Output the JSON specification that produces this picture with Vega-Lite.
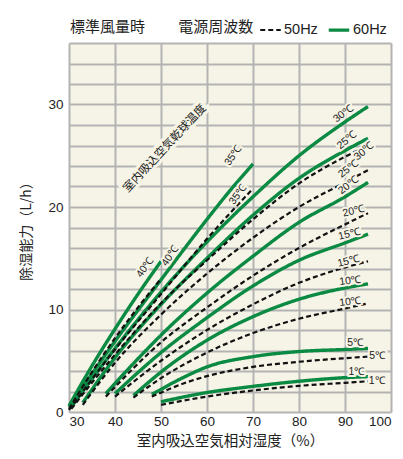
{
  "$schema": "https://vega.github.io/schema/vega-lite/v6.json",
  "width": 322,
  "height": 369,
  "autosize": {"type": "none"},
  "padding": {"left": 69, "top": 43, "right": 12, "bottom": 47},
  "background": "#ffffff",
  "config": {
    "view": {"fill": "#f6f4e6", "stroke": null},
    "font": "Liberation Sans, Noto Sans CJK JP",
    "axis": {"gridColor": "#b3b3b3", "gridWidth": 2, "gridOpacity": 1, "domain": false, "ticks": false, "labelFont": "Liberation Sans", "labelFontSize": 13.5, "labelColor": "#222", "labelOverlap": false, "titleFont": "Noto Sans CJK JP", "titleFontSize": 14, "titleFontWeight": "normal", "titleColor": "#222"}
  },
  "datasets": {
    "curves": [
      {"freq": "60Hz", "temp": 40, "rh": 30, "cap": 0.6}, {"freq": "60Hz", "temp": 40, "rh": 35, "cap": 4.5}, {"freq": "60Hz", "temp": 40, "rh": 40, "cap": 8.1}, {"freq": "60Hz", "temp": 40, "rh": 45, "cap": 11.5}, {"freq": "60Hz", "temp": 40, "rh": 50, "cap": 14.7},
      {"freq": "60Hz", "temp": 35, "rh": 30, "cap": 0.5}, {"freq": "60Hz", "temp": 35, "rh": 40, "cap": 6.9}, {"freq": "60Hz", "temp": 35, "rh": 50, "cap": 12.9}, {"freq": "60Hz", "temp": 35, "rh": 60, "cap": 18.8}, {"freq": "60Hz", "temp": 35, "rh": 65, "cap": 21.6}, {"freq": "60Hz", "temp": 35, "rh": 70, "cap": 24.2},
      {"freq": "60Hz", "temp": 30, "rh": 30.5, "cap": 0.5}, {"freq": "60Hz", "temp": 30, "rh": 40, "cap": 6.2}, {"freq": "60Hz", "temp": 30, "rh": 50, "cap": 11.7}, {"freq": "60Hz", "temp": 30, "rh": 60, "cap": 16.6}, {"freq": "60Hz", "temp": 30, "rh": 70, "cap": 21.0}, {"freq": "60Hz", "temp": 30, "rh": 80, "cap": 25.0}, {"freq": "60Hz", "temp": 30, "rh": 90, "cap": 28.3}, {"freq": "60Hz", "temp": 30, "rh": 95, "cap": 29.8},
      {"freq": "60Hz", "temp": 25, "rh": 33, "cap": 0.9}, {"freq": "60Hz", "temp": 25, "rh": 40, "cap": 5.3}, {"freq": "60Hz", "temp": 25, "rh": 50, "cap": 10.5}, {"freq": "60Hz", "temp": 25, "rh": 60, "cap": 15.0}, {"freq": "60Hz", "temp": 25, "rh": 70, "cap": 19.2}, {"freq": "60Hz", "temp": 25, "rh": 80, "cap": 22.8}, {"freq": "60Hz", "temp": 25, "rh": 90, "cap": 25.5}, {"freq": "60Hz", "temp": 25, "rh": 95, "cap": 26.7},
      {"freq": "60Hz", "temp": 20, "rh": 38, "cap": 1.8}, {"freq": "60Hz", "temp": 20, "rh": 45, "cap": 5.2}, {"freq": "60Hz", "temp": 20, "rh": 50, "cap": 7.5}, {"freq": "60Hz", "temp": 20, "rh": 60, "cap": 11.6}, {"freq": "60Hz", "temp": 20, "rh": 70, "cap": 15.2}, {"freq": "60Hz", "temp": 20, "rh": 80, "cap": 18.5}, {"freq": "60Hz", "temp": 20, "rh": 90, "cap": 21.0}, {"freq": "60Hz", "temp": 20, "rh": 95, "cap": 22.4},
      {"freq": "60Hz", "temp": 15, "rh": 40, "cap": 1.8}, {"freq": "60Hz", "temp": 15, "rh": 50, "cap": 5.8}, {"freq": "60Hz", "temp": 15, "rh": 60, "cap": 9.2}, {"freq": "60Hz", "temp": 15, "rh": 70, "cap": 12.3}, {"freq": "60Hz", "temp": 15, "rh": 80, "cap": 14.8}, {"freq": "60Hz", "temp": 15, "rh": 90, "cap": 16.5}, {"freq": "60Hz", "temp": 15, "rh": 95, "cap": 17.35},
      {"freq": "60Hz", "temp": 10, "rh": 44, "cap": 1.6}, {"freq": "60Hz", "temp": 10, "rh": 50, "cap": 3.9}, {"freq": "60Hz", "temp": 10, "rh": 60, "cap": 7.0}, {"freq": "60Hz", "temp": 10, "rh": 70, "cap": 9.3}, {"freq": "60Hz", "temp": 10, "rh": 80, "cap": 11.0}, {"freq": "60Hz", "temp": 10, "rh": 90, "cap": 12.1}, {"freq": "60Hz", "temp": 10, "rh": 95, "cap": 12.5},
      {"freq": "60Hz", "temp": 5, "rh": 48, "cap": 1.7}, {"freq": "60Hz", "temp": 5, "rh": 55, "cap": 3.4}, {"freq": "60Hz", "temp": 5, "rh": 60, "cap": 4.4}, {"freq": "60Hz", "temp": 5, "rh": 70, "cap": 5.4}, {"freq": "60Hz", "temp": 5, "rh": 80, "cap": 5.9}, {"freq": "60Hz", "temp": 5, "rh": 90, "cap": 6.1}, {"freq": "60Hz", "temp": 5, "rh": 95, "cap": 6.2},
      {"freq": "60Hz", "temp": 1, "rh": 50, "cap": 1.0}, {"freq": "60Hz", "temp": 1, "rh": 60, "cap": 1.9}, {"freq": "60Hz", "temp": 1, "rh": 70, "cap": 2.5}, {"freq": "60Hz", "temp": 1, "rh": 80, "cap": 3.0}, {"freq": "60Hz", "temp": 1, "rh": 90, "cap": 3.35}, {"freq": "60Hz", "temp": 1, "rh": 95, "cap": 3.45},
      {"freq": "50Hz", "temp": 40, "rh": 30, "cap": 0.3}, {"freq": "50Hz", "temp": 40, "rh": 35, "cap": 3.9}, {"freq": "50Hz", "temp": 40, "rh": 40, "cap": 7.2}, {"freq": "50Hz", "temp": 40, "rh": 45, "cap": 10.2}, {"freq": "50Hz", "temp": 40, "rh": 50, "cap": 13.0},
      {"freq": "50Hz", "temp": 35, "rh": 30, "cap": 0.2}, {"freq": "50Hz", "temp": 35, "rh": 40, "cap": 6.1}, {"freq": "50Hz", "temp": 35, "rh": 50, "cap": 11.5}, {"freq": "50Hz", "temp": 35, "rh": 60, "cap": 16.9}, {"freq": "50Hz", "temp": 35, "rh": 70, "cap": 21.8},
      {"freq": "50Hz", "temp": 30, "rh": 30.5, "cap": 0.3}, {"freq": "50Hz", "temp": 30, "rh": 40, "cap": 5.6}, {"freq": "50Hz", "temp": 30, "rh": 50, "cap": 10.6}, {"freq": "50Hz", "temp": 30, "rh": 60, "cap": 14.8}, {"freq": "50Hz", "temp": 30, "rh": 70, "cap": 18.8}, {"freq": "50Hz", "temp": 30, "rh": 80, "cap": 22.3}, {"freq": "50Hz", "temp": 30, "rh": 90, "cap": 24.9}, {"freq": "50Hz", "temp": 30, "rh": 95, "cap": 26.0},
      {"freq": "50Hz", "temp": 25, "rh": 33, "cap": 0.7}, {"freq": "50Hz", "temp": 25, "rh": 40, "cap": 4.8}, {"freq": "50Hz", "temp": 25, "rh": 50, "cap": 9.5}, {"freq": "50Hz", "temp": 25, "rh": 60, "cap": 13.5}, {"freq": "50Hz", "temp": 25, "rh": 70, "cap": 17.0}, {"freq": "50Hz", "temp": 25, "rh": 80, "cap": 20.0}, {"freq": "50Hz", "temp": 25, "rh": 90, "cap": 22.4}, {"freq": "50Hz", "temp": 25, "rh": 95, "cap": 23.6},
      {"freq": "50Hz", "temp": 20, "rh": 38, "cap": 1.5}, {"freq": "50Hz", "temp": 20, "rh": 50, "cap": 6.8}, {"freq": "50Hz", "temp": 20, "rh": 60, "cap": 10.2}, {"freq": "50Hz", "temp": 20, "rh": 70, "cap": 13.3}, {"freq": "50Hz", "temp": 20, "rh": 80, "cap": 16.0}, {"freq": "50Hz", "temp": 20, "rh": 90, "cap": 18.3}, {"freq": "50Hz", "temp": 20, "rh": 95, "cap": 19.4},
      {"freq": "50Hz", "temp": 15, "rh": 40, "cap": 1.5}, {"freq": "50Hz", "temp": 15, "rh": 50, "cap": 5.0}, {"freq": "50Hz", "temp": 15, "rh": 60, "cap": 8.0}, {"freq": "50Hz", "temp": 15, "rh": 70, "cap": 10.5}, {"freq": "50Hz", "temp": 15, "rh": 80, "cap": 12.6}, {"freq": "50Hz", "temp": 15, "rh": 90, "cap": 14.1}, {"freq": "50Hz", "temp": 15, "rh": 95, "cap": 14.7},
      {"freq": "50Hz", "temp": 10, "rh": 44, "cap": 1.4}, {"freq": "50Hz", "temp": 10, "rh": 50, "cap": 3.3}, {"freq": "50Hz", "temp": 10, "rh": 60, "cap": 5.8}, {"freq": "50Hz", "temp": 10, "rh": 70, "cap": 7.7}, {"freq": "50Hz", "temp": 10, "rh": 80, "cap": 9.1}, {"freq": "50Hz", "temp": 10, "rh": 90, "cap": 10.1}, {"freq": "50Hz", "temp": 10, "rh": 95, "cap": 10.6},
      {"freq": "50Hz", "temp": 5, "rh": 48, "cap": 1.5}, {"freq": "50Hz", "temp": 5, "rh": 55, "cap": 2.8}, {"freq": "50Hz", "temp": 5, "rh": 60, "cap": 3.5}, {"freq": "50Hz", "temp": 5, "rh": 70, "cap": 4.4}, {"freq": "50Hz", "temp": 5, "rh": 80, "cap": 4.9}, {"freq": "50Hz", "temp": 5, "rh": 90, "cap": 5.25}, {"freq": "50Hz", "temp": 5, "rh": 95, "cap": 5.4},
      {"freq": "50Hz", "temp": 1, "rh": 50, "cap": 0.7}, {"freq": "50Hz", "temp": 1, "rh": 60, "cap": 1.5}, {"freq": "50Hz", "temp": 1, "rh": 70, "cap": 2.1}, {"freq": "50Hz", "temp": 1, "rh": 80, "cap": 2.55}, {"freq": "50Hz", "temp": 1, "rh": 90, "cap": 2.85}, {"freq": "50Hz", "temp": 1, "rh": 95, "cap": 3.0}
    ],
    "labels": [
      {"freq": "60Hz", "temp": 40, "label": "40℃", "rh": 46.5, "cap": 14.1},
      {"freq": "50Hz", "temp": 40, "label": "40℃", "rh": 52.0, "cap": 15.2},
      {"freq": "60Hz", "temp": 35, "label": "35℃", "rh": 65.7, "cap": 25.0},
      {"freq": "50Hz", "temp": 35, "label": "35℃", "rh": 66.7, "cap": 21.2},
      {"freq": "60Hz", "temp": 30, "label": "30℃", "rh": 89.6, "cap": 29.1},
      {"freq": "60Hz", "temp": 25, "label": "25℃", "rh": 90.4, "cap": 26.5},
      {"freq": "50Hz", "temp": 30, "label": "30℃", "rh": 94.1, "cap": 25.4},
      {"freq": "50Hz", "temp": 25, "label": "25℃", "rh": 90.7, "cap": 23.7},
      {"freq": "60Hz", "temp": 20, "label": "20℃", "rh": 90.7, "cap": 22.1},
      {"freq": "50Hz", "temp": 20, "label": "20℃", "rh": 91.8, "cap": 19.6},
      {"freq": "60Hz", "temp": 15, "label": "15℃", "rh": 90.9, "cap": 17.35},
      {"freq": "50Hz", "temp": 15, "label": "15℃", "rh": 90.7, "cap": 14.7},
      {"freq": "60Hz", "temp": 10, "label": "10℃", "rh": 91.1, "cap": 12.8},
      {"freq": "50Hz", "temp": 10, "label": "10℃", "rh": 91.1, "cap": 10.75},
      {"freq": "60Hz", "temp": 5, "label": "5℃", "rh": 92.2, "cap": 6.7},
      {"freq": "50Hz", "temp": 5, "label": "5℃", "rh": 97.0, "cap": 5.5},
      {"freq": "60Hz", "temp": 1, "label": "1℃", "rh": 92.5, "cap": 3.95},
      {"freq": "50Hz", "temp": 1, "label": "1℃", "rh": 96.9, "cap": 3.04}
    ],
    "note": [{"label": "室内吸込空気乾球温度", "rh": 50.9, "cap": 25.7}]
  },
  "encoding": {
    "x": {"field": "rh", "type": "quantitative", "scale": {"domain": [30, 100], "nice": false}, "axis": {"values": [30, 40, 50, 60, 70, 80, 90, 100], "labelPadding": 2, "labelOverlap": false, "title": "室内吸込空気相対湿度（%）", "titleFontSize": 14.5, "titlePadding": 7}},
    "y": {"field": "cap", "type": "quantitative", "scale": {"domain": [0, 36], "nice": false}, "axis": {"values": [0, 2, 4, 6, 8, 10, 12, 14, 16, 18, 20, 22, 24, 26, 28, 30, 32, 34, 36], "labelExpr": "(datum.value == 0 || datum.value == 10 || datum.value == 20 || datum.value == 30) ? datum.label : ''", "labelOverlap": false, "labelPadding": 6, "title": "除湿能力（L/h）", "titlePadding": 14}}
  },
  "layer": [
    {
      "data": {"name": "curves"},
      "mark": {"type": "line", "interpolate": "monotone", "strokeCap": "butt"},
      "encoding": {
        "detail": {"field": "temp"},
        "color": {"field": "freq", "type": "nominal", "scale": {"domain": ["50Hz", "60Hz"], "range": ["#111111", "#0b8a43"]}, "legend": {"orient": "none", "legendX": 1, "legendY": -25, "direction": "horizontal", "title": "標準風量時　　 電源周波数", "titleLimit": 400, "titleOrient": "left", "titleFont": "Noto Sans CJK JP", "titleFontSize": 15, "titleFontWeight": "normal", "titleColor": "#222", "titlePadding": 5, "labelFont": "Liberation Sans", "labelFontSize": 14.5, "labelColor": "#222", "symbolType": "stroke", "symbolSize": 420, "symbolStrokeWidth": 3, "labelOffset": 2, "columnPadding": 3}},
        "strokeDash": {"field": "freq", "type": "nominal", "scale": {"domain": ["50Hz", "60Hz"], "range": [[5, 3], [1, 0]]}, "legend": {"orient": "none", "legendX": 1, "legendY": -25, "direction": "horizontal", "title": "標準風量時　　 電源周波数", "titleLimit": 400, "titleOrient": "left"}},
        "strokeWidth": {"field": "freq", "type": "nominal", "scale": {"domain": ["50Hz", "60Hz"], "range": [2.2, 3.4]}, "legend": null}
      }
    },
    {
      "data": {"name": "labels"},
      "transform": [{"filter": "datum.temp >= 35"}],
      "layer": [
        {"mark": {"type": "text", "angle": 305, "fontSize": 10.5, "font": "Liberation Sans Narrow, Liberation Sans", "stroke": "#f6f4e6", "strokeWidth": 4, "fill": "#f6f4e6"}, "encoding": {"text": {"field": "label"}}},
        {"mark": {"type": "text", "angle": 305, "fontSize": 10.5, "font": "Liberation Sans Narrow, Liberation Sans", "fill": "#222"}, "encoding": {"text": {"field": "label"}}}
      ]
    },
    {
      "data": {"name": "labels"},
      "transform": [{"filter": "datum.temp == 30 || datum.temp == 25 || (datum.temp == 20 && datum.freq == '60Hz')"}],
      "layer": [
        {"mark": {"type": "text", "angle": 322, "fontSize": 10.5, "font": "Liberation Sans Narrow, Liberation Sans", "stroke": "#f6f4e6", "strokeWidth": 4, "fill": "#f6f4e6"}, "encoding": {"text": {"field": "label"}}},
        {"mark": {"type": "text", "angle": 322, "fontSize": 10.5, "font": "Liberation Sans Narrow, Liberation Sans", "fill": "#222"}, "encoding": {"text": {"field": "label"}}}
      ]
    },
    {
      "data": {"name": "labels"},
      "transform": [{"filter": "(datum.temp == 20 && datum.freq == '50Hz') || datum.temp == 15"}],
      "layer": [
        {"mark": {"type": "text", "angle": 346, "fontSize": 10.5, "font": "Liberation Sans Narrow, Liberation Sans", "stroke": "#f6f4e6", "strokeWidth": 4, "fill": "#f6f4e6"}, "encoding": {"text": {"field": "label"}}},
        {"mark": {"type": "text", "angle": 346, "fontSize": 10.5, "font": "Liberation Sans Narrow, Liberation Sans", "fill": "#222"}, "encoding": {"text": {"field": "label"}}}
      ]
    },
    {
      "data": {"name": "labels"},
      "transform": [{"filter": "datum.temp == 10"}],
      "layer": [
        {"mark": {"type": "text", "angle": 353, "fontSize": 10.5, "font": "Liberation Sans Narrow, Liberation Sans", "stroke": "#f6f4e6", "strokeWidth": 4, "fill": "#f6f4e6"}, "encoding": {"text": {"field": "label"}}},
        {"mark": {"type": "text", "angle": 353, "fontSize": 10.5, "font": "Liberation Sans Narrow, Liberation Sans", "fill": "#222"}, "encoding": {"text": {"field": "label"}}}
      ]
    },
    {
      "data": {"name": "labels"},
      "transform": [{"filter": "datum.temp <= 5"}],
      "layer": [
        {"mark": {"type": "text", "angle": 0, "fontSize": 10.5, "font": "Liberation Sans Narrow, Liberation Sans", "stroke": "#f6f4e6", "strokeWidth": 4, "fill": "#f6f4e6"}, "encoding": {"text": {"field": "label"}}},
        {"mark": {"type": "text", "angle": 0, "fontSize": 10.5, "font": "Liberation Sans Narrow, Liberation Sans", "fill": "#222"}, "encoding": {"text": {"field": "label"}}}
      ]
    },
    {
      "data": {"name": "note"},
      "layer": [
        {"mark": {"type": "text", "angle": 313, "fontSize": 11.5, "font": "Noto Sans CJK JP", "stroke": "#f6f4e6", "strokeWidth": 6, "fill": "#f6f4e6"}, "encoding": {"text": {"field": "label"}}},
        {"mark": {"type": "text", "angle": 313, "fontSize": 11.5, "font": "Noto Sans CJK JP", "fill": "#222"}, "encoding": {"text": {"field": "label"}}}
      ]
    }
  ]
}
